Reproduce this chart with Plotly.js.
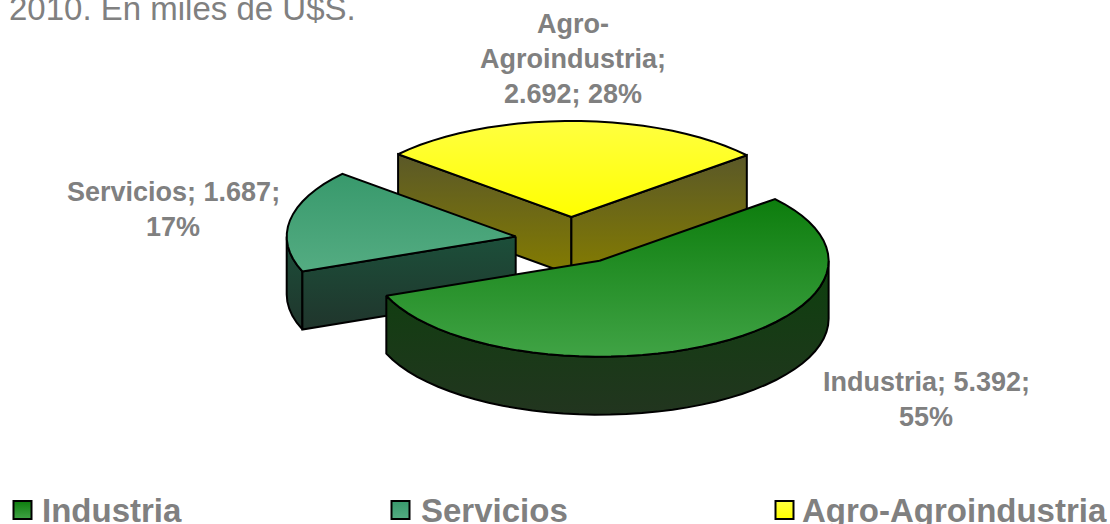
<!DOCTYPE html>
<html><head><meta charset="utf-8">
<script src="https://cdn.plot.ly/plotly-3.0.1.min.js"></script>
<style>html,body{margin:0;padding:0;background:#fff;overflow:hidden}</style>
</head><body><div id="chart" style="width:1110px;height:524px"></div>
<script>
// Data
const categories = ["Industria", "Servicios", "Agro-Agroindustria"];
const values = [5392, 1687, 2692];
const valueText = ["5.392", "1.687", "2.692"];
const titleText = "2010. En miles de U$S.";

// Projection of the tilted, exploded pie (pixel space of the hidden axes)
const W = 1110, H = 524;
const cx = 571, cy = 240.5, rx = 229, ry = 96, depth = 58, explode = 0.245, firstAngle = 50, stepDeg = 4;
const GRAY = "#808080";
const topGrad = [["#0d7d0d", "#40a345"], ["#38996c", "#54ac82"], ["#ffff40", "#ffff00"]];
const sideGrad = [["#0d400d", "#22351f"], ["#1c4f3a", "#20352c"], ["#5a5828", "#847c00"]];

const total = values.reduce((a, b) => a + b, 0);
const rad = d => d * Math.PI / 180;
const px = (c, t) => c.x + rx * Math.sin(rad(t));
const py = (c, t) => c.y - ry * Math.cos(rad(t));

let acc = firstAngle;
const slices = values.map(v => {
  const a0 = acc, a1 = acc + v / total * 360;
  acc = a1;
  const m = (a0 + a1) / 2;
  const c = {x: cx + explode * rx * Math.sin(rad(m)), y: cy - explode * ry * Math.cos(rad(m))};
  return {a0, a1, c};
});

function arc(c, a, b, dy) {
  const xs = [], ys = [];
  const n = Math.max(1, Math.round(Math.abs(b - a) / stepDeg));
  for (let i = 0; i <= n; i++) {
    const t = a + (b - a) * i / n;
    xs.push(px(c, t)); ys.push(py(c, t) + dy);
  }
  return [xs, ys];
}
function poly(xs, ys, grad, y0, y1) {
  return {
    type: "scatter", mode: "lines", x: xs, y: ys, fill: "toself", hoverinfo: "skip", showlegend: false,
    line: {color: "#000", width: 2, simplify: false},
    fillgradient: {type: "vertical", start: y0, stop: y1, colorscale: [[0, grad[0]], [1, grad[1]]]}
  };
}
function wallFace(s, t, grad) {
  const c = s.c, x = px(c, t), y = py(c, t);
  return poly([c.x, x, x, c.x, c.x], [c.y, y, y + depth, c.y + depth, c.y], grad,
    Math.min(c.y, y), Math.max(c.y, y) + depth);
}
function rimFace(s, a, b, grad) {
  const c = s.c;
  const [x1, y1] = arc(c, a, b, 0), [x2, y2] = arc(c, b, a, depth);
  const xs = x1.concat(x2, [x1[0]]), ys = y1.concat(y2, [y1[0]]);
  return poly(xs, ys, grad, Math.min(...ys), Math.max(...ys));
}
function topFace(s, grad) {
  const c = s.c;
  const [x, y] = arc(c, s.a0, s.a1, 0);
  const xs = [c.x].concat(x, [c.x]), ys = [c.y].concat(y, [c.y]);
  return poly(xs, ys, grad, Math.min(...ys), Math.max(...ys));
}

const [ind, ser, agr] = slices;
const traces = [
  wallFace(agr, agr.a0, sideGrad[2]), wallFace(agr, agr.a1, sideGrad[2]), topFace(agr, topGrad[2]),
  rimFace(ser, 270, ser.a0, sideGrad[1]), wallFace(ser, ser.a0, sideGrad[1]), topFace(ser, topGrad[1]),
  rimFace(ind, 90, ind.a1, sideGrad[0]), topFace(ind, topGrad[0])
];

// Legend
const legendX = [22.5, 400.5, 784.5], legendTextX = [41.5, 420.5, 802], legendY = 510;
categories.forEach((n, i) => traces.push({
  type: "scatter", mode: "markers", x: [legendX[i]], y: [legendY], hoverinfo: "skip", showlegend: false,
  marker: {symbol: "square", size: 18, color: topGrad[i][0], line: {color: "#000", width: 2},
    gradient: {type: "vertical", color: topGrad[i][1]}}
}));

const pct = values.map(v => Math.round(v / total * 100) + "%");
const font = {family: "'Liberation Sans', Arial, sans-serif", size: 27, color: GRAY};
const note = (text, x, y, f, xanchor) => ({
  text: "<b>" + text + "</b>", x, y, xref: "x", yref: "y", showarrow: false,
  xanchor: xanchor || "center", yanchor: "middle", font: f, borderpad: 0, borderwidth: 0
});
const annotations = [
  note("Industria; " + valueText[0] + ";", 926, 382, font),
  note(pct[0], 926, 417, font),
  note("Servicios; " + valueText[1] + ";", 173, 192, font),
  note(pct[1], 173, 227, font),
  note("Agro-", 573, 24, font),
  note("Agroindustria;", 573, 59, font),
  note(valueText[2] + "; " + pct[2], 573, 94, font)
];
const legFont = {family: font.family, size: 33, color: GRAY};
categories.forEach((n, i) => annotations.push(note(n, legendTextX[i], legendY, legFont, "left")));

Plotly.newPlot("chart", traces, {
  width: W, height: H, margin: {l: 0, r: 0, t: 0, b: 0}, showlegend: false,
  paper_bgcolor: "#fff", plot_bgcolor: "#fff",
  title: {text: titleText, x: 9 / W, xanchor: "left", xref: "paper", y: 1 - 8 / H, yref: "paper", yanchor: "middle",
    font: {family: font.family, size: 33, color: GRAY}},
  xaxis: {range: [0, W], visible: false, fixedrange: true},
  yaxis: {range: [H, 0], visible: false, fixedrange: true},
  annotations
}, {displayModeBar: false, staticPlot: true});
</script></body></html>
